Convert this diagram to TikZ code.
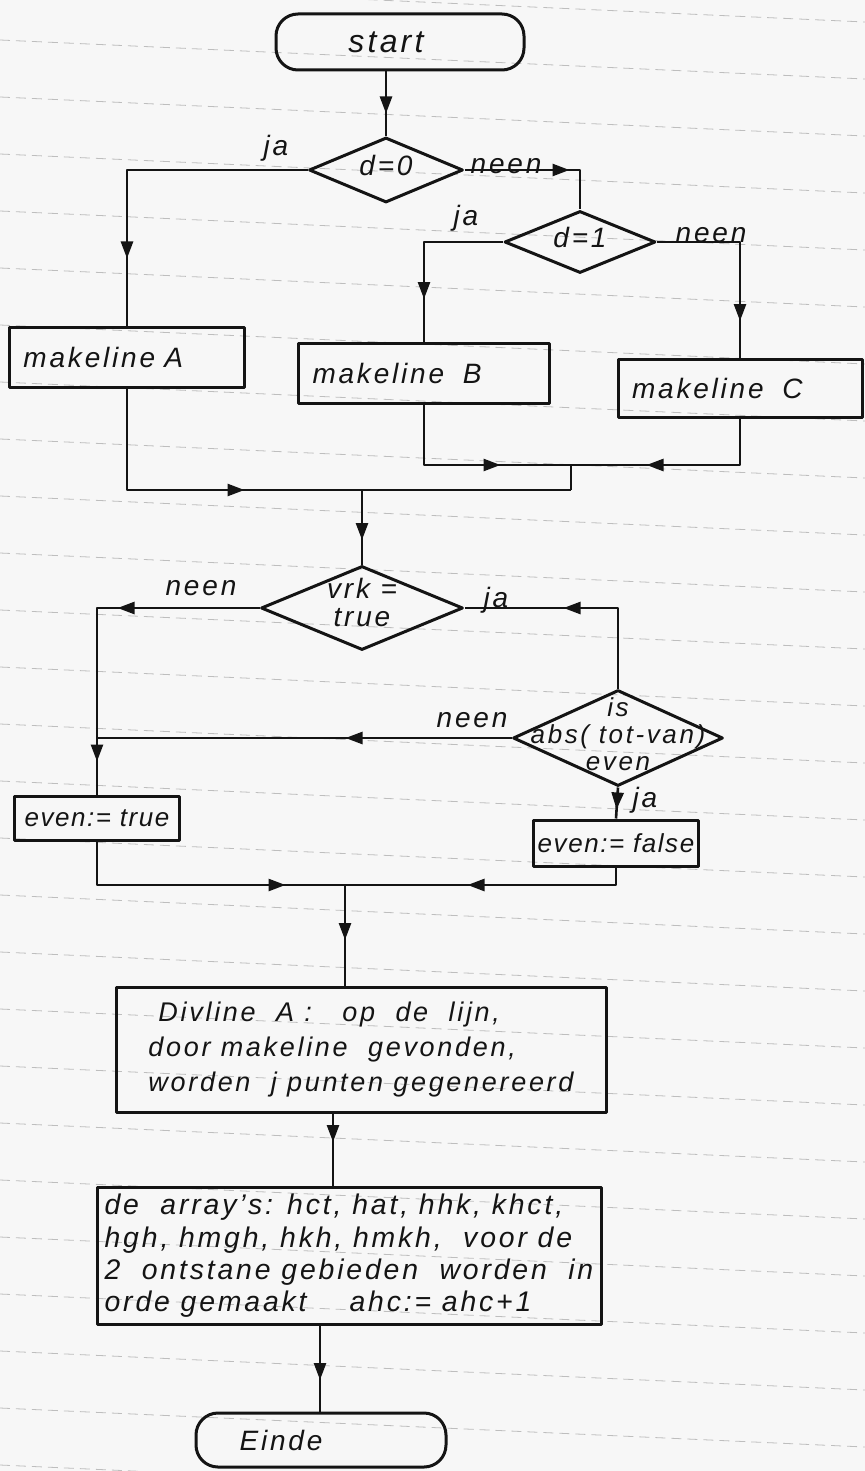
\documentclass[tikz,border=0pt]{standalone}
\usepackage{fontspec}
\setmainfont{Liberation Sans}[LetterSpace=10]
\usetikzlibrary{shapes.geometric,arrows.meta,decorations.markings}
\definecolor{paper}{RGB}{247,247,247}
\definecolor{ink}{RGB}{20,20,20}
\definecolor{rule}{RGB}{190,190,190}
\newcommand\zb[1]{\makebox[0pt]{\raisebox{-3pt}[0pt][0pt]{\begin{tabular}{@{}c@{}}#1\end{tabular}}}}
\begin{document}
\begin{tikzpicture}[x=0.5pt,y=-0.5pt,line join=round,
  >={Triangle[length=8.5pt,width=6pt]},
  ln/.style={draw=ink,line width=1.3pt},
  ma/.style={postaction={decorate,decoration={markings,mark=at position #1 with {\arrow{>}}}}},
  hw/.style={font=\fontsize{14}{16}\selectfont\itshape, text=ink},
  sm/.style={font=\fontsize{13.5}{17.5}\selectfont\itshape, text=ink},
  ar/.style={font=\fontsize{14.2}{16.2}\selectfont\itshape, text=ink},
  ev/.style={font=\fontsize{13}{14}\selectfont\itshape\addfontfeature{LetterSpace=6}, text=ink},
  term/.style={ln, hw, rectangle, rounded corners=11pt, line width=1.5pt},
  pbox/.style={ln, hw, rectangle, line width=1.5pt, align=left},
  dia/.style={ln, hw, diamond, inner sep=0pt, line width=1.5pt}]
\useasboundingbox[fill=paper] (0,0) rectangle (865,1471);
\begin{scope}
\clip (0,0) rectangle (865,1471);
\foreach \k in {-1,...,25}
  \draw[rule, line width=0.4pt, dash pattern=on 5pt off 3pt] (0,{40+57*\k}) -- (865,{79+57*\k});
\end{scope}

% nodes
\node[term, minimum width=124pt, minimum height=28pt, font=\fontsize{16}{18}\selectfont\itshape] (start) at (400,42) {start\kern14pt};
\node[dia, minimum width=77pt, minimum height=32.5pt] (d0) at (386,170) {\zb{d=0}};
\node[dia, minimum width=75.5pt, minimum height=31pt] (d1) at (580,242) {\zb{d=1}};
\node[pbox, text width=103.5pt, inner xsep=7pt, minimum height=30pt] (mA) at (127,357) {makeline A};
\node[pbox, text width=111.5pt, inner xsep=7pt, minimum height=30pt] (mB) at (424,373) {makeline\ \ B};
\node[pbox, text width=108pt, inner xsep=7pt, minimum height=29pt] (mC) at (740,388) {makeline\ \ C};
\node[dia, minimum width=101pt, minimum height=42pt, font=\fontsize{14}{14}\selectfont\itshape] (vrk) at (362,608) {\zb{vrk =\\true}};
\node[dia, minimum width=105pt, minimum height=48pt, font=\fontsize{13}{13.5}\selectfont\itshape] (is) at (618,738) {\zb{is\\abs( tot-van)\\even}};
\node[pbox, ev, inner xsep=2pt, minimum width=82.5pt, minimum height=22pt] (evT) at (97,818) {even:=\ true};
\node[pbox, ev, inner xsep=2pt, minimum width=80pt, minimum height=23pt] (evF) at (616,843) {even:= false};
\node[pbox, sm, minimum width=245pt, minimum height=62.5pt] (div) at (361,1050)
  {\hspace*{5pt}Divline\ \ A :\ \ \ op\ \ de\ \ lijn,\\door\ makeline\ \ gevonden,\\worden\ \ j\ punten gegenereerd};
\node[pbox, ar, minimum width=252pt, inner xsep=3pt, minimum height=67.5pt] (arr) at (349,1256)
  {de\ \ array's: hct, hat, hhk, khct,\\hgh,\ hmgh,\ hkh, hmkh,\ \ voor\ de\\2\ \ ontstane gebieden\ \ worden\ \ in\\orde\ gemaakt\ \ \ \ ahc:= ahc+1};
\node[term, minimum width=125pt, minimum height=27pt] (einde) at (321,1440) {Einde\kern40pt};

% labels
\node[hw] (l1) at (276,148) {ja};
\node[hw] (l2) at (506,166) {neen};
\node[hw] (l3) at (466,218) {ja};
\node[hw] (l4) at (711,235) {neen};
\node[hw] (l5) at (201,588) {neen};
\node[hw] (l6) at (496,600) {ja};
\node[hw] (l7) at (472,720) {neen};
\node[hw] (l8) at (645,800) {ja};

% connectors
\coordinate (m1) at (571,465);
\coordinate (m2) at (571,490);
\coordinate (m3) at (362,490);
\coordinate (m4) at (345,885);
\coordinate (m5) at (333,0);
\coordinate (m6) at (320,0);
\draw[ln,ma=21pt] (start.south -| d0.north) -- (d0.north);
\draw[ln,ma=134.5pt] (d0.west) -| (mA.north);
\draw[ln,ma=52.5pt] (d0.east) -| (d1.north);
\draw[ln,ma=68pt] (d1.west) -| (mB.north);
\draw[ln,ma=81pt] (d1.east) -| (mC.north);
\draw[ln,ma=68.5pt] (mB.south) |- (m1);
\draw[ln,ma=70pt] (mC.south) |- (m1);
\draw[ln] (m1) -- (m2);
\draw[ln,ma=109.5pt] (mA.south) |- (m2);
\draw[ln,ma=25pt] (m3) -- (vrk.north);
\draw[ln,ma=71pt,ma=158pt] (vrk.west) -| (evT.north);
\draw[ln,ma=67.5pt] (is.north) |- (vrk.east);
\draw[ln,ma=83pt] (is.west) -- (is.west -| evT.north);
\draw[ln,ma=11pt] (is.south) -- (evF.north);
\draw[ln,ma=116pt] (evT.south) |- (m4);
\draw[ln,ma=83pt] (evF.south) |- (m4);
\draw[ln,ma=27.5pt] (m4) -- (m4 |- div.north);
\draw[ln,ma=14pt] (div.south -| m5) -- (arr.north -| m5);
\draw[ln,ma=27pt] (arr.south -| m6) -- (einde.north -| m6);
\end{tikzpicture}
\end{document}
